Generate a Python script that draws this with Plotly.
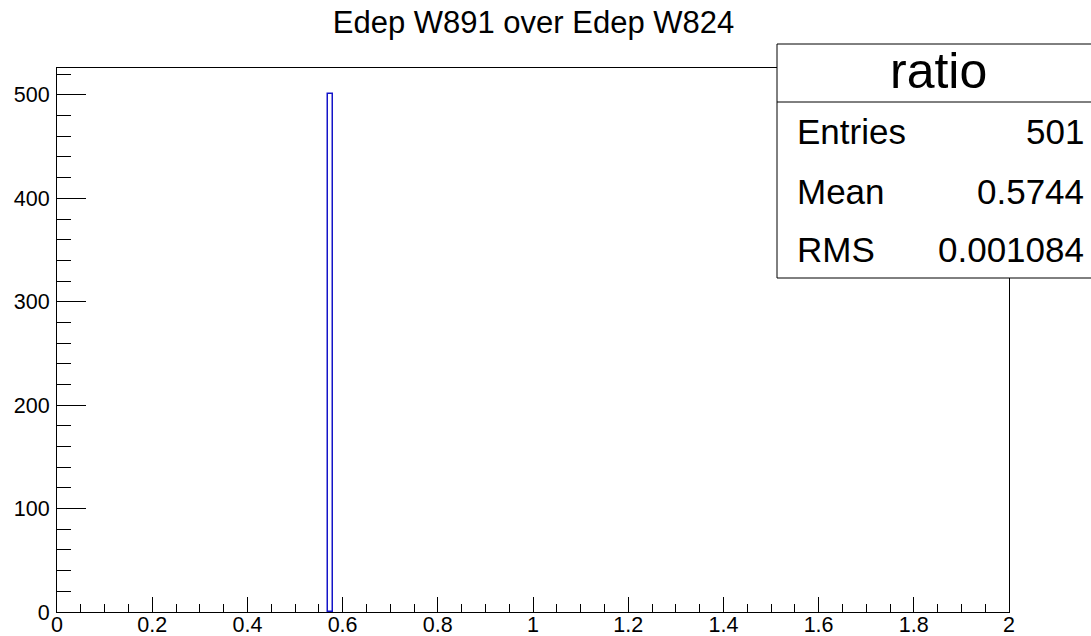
import plotly.graph_objects as go

# Data
bin_centers = [0.575]
bin_counts = [501]
bin_width = 0.01
title_text = "Edep W891 over Edep W824"
stats_name = "ratio"
stats_labels = ["Entries", "Mean", "RMS"]
stats_values = ["501", "0.5744", "0.001084"]

W, H = 1091, 636
L, R, T, B = 57, 82, 68, 24
pw, ph = W - L - R, H - T - B


def px(p):
    return (p - L) / pw


def py(p):
    return (H - B - p) / ph


fig = go.Figure()
fig.add_trace(go.Bar(
    x=bin_centers, y=bin_counts, width=[bin_width] * len(bin_centers),
    marker=dict(color="rgba(0,0,0,0)", line=dict(color="#1414c8", width=1.5)),
    showlegend=False,
))

ymax = max(bin_counts) * 1.05
font = "Liberation Sans, Arial, Helvetica, sans-serif"

fig.update_layout(
    width=W, height=H,
    margin=dict(l=L, r=R, t=T, b=B, autoexpand=False),
    paper_bgcolor="white", plot_bgcolor="white",
    font=dict(family=font, color="black", size=21.5),
    title=dict(text=title_text, xref="container", yref="container",
               x=533.5 / W, xanchor="center", y=1 - 22.5 / H, yanchor="middle",
               font=dict(size=31, family=font, color="black")),
    bargap=0,
    xaxis=dict(range=[0, 2], tick0=0, dtick=0.2, ticks="inside", ticklen=15, tickwidth=1,
               tickcolor="black", showline=True, linecolor="black", linewidth=1, mirror=True,
               showgrid=False, zeroline=False, automargin=False, ticklabelstandoff=-7,
               minor=dict(dtick=0.05, ticklen=8, ticks="inside", tickcolor="black", showgrid=False),
               tickfont=dict(size=21.5)),
    yaxis=dict(range=[0, ymax], tick0=0, dtick=100, ticks="inside", ticklen=29, tickwidth=1,
               tickcolor="black", showline=True, linecolor="black", linewidth=1, mirror=True,
               showgrid=False, zeroline=False, ticklabelstandoff=2, automargin=False,
               minor=dict(dtick=20, ticklen=14, ticks="inside", tickcolor="black", showgrid=False),
               tickfont=dict(size=21.5)),
)

# Stats box
box_l, box_r, box_t, box_b, sep = 777, 1095, 44, 278, 102
fig.add_shape(type="rect", xref="paper", yref="paper",
              x0=px(box_l), x1=px(box_r), y0=py(box_b), y1=py(box_t),
              fillcolor="white", line=dict(color="black", width=1), layer="above")
fig.add_shape(type="line", xref="paper", yref="paper",
              x0=px(box_l), x1=px(box_r), y0=py(sep), y1=py(sep),
              line=dict(color="black", width=1), layer="above")
fig.add_annotation(xref="paper", yref="paper", x=px(938), y=py(71), text=stats_name,
                   showarrow=False, xanchor="center", yanchor="middle",
                   font=dict(size=50, family=font, color="black"))
row_y = [131.5, 191.5, 249.5]
for lab, val, yy in zip(stats_labels, stats_values, row_y):
    fig.add_annotation(xref="paper", yref="paper", x=px(795), y=py(yy), text=lab,
                       showarrow=False, xanchor="left", yanchor="middle",
                       font=dict(size=35, family=font, color="black"))
    fig.add_annotation(xref="paper", yref="paper", x=px(1086), y=py(yy), text=val,
                       showarrow=False, xanchor="right", yanchor="middle",
                       font=dict(size=35, family=font, color="black"))

fig.write_html("out.html", config={"displayModeBar": False},
               post_script="document.body.style.margin='0';document.body.style.overflow='hidden';")
